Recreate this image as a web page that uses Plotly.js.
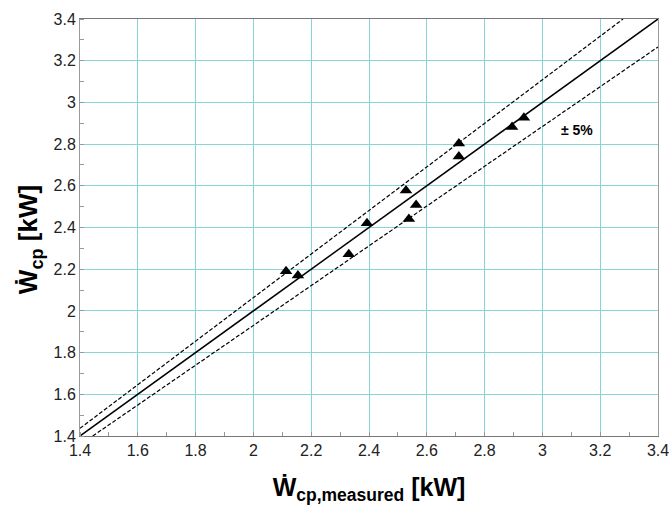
<!DOCTYPE html>
<html>
<head>
<meta charset="utf-8">
<script src="https://cdn.plot.ly/plotly-3.0.1.min.js"></script>
<style>html,body{margin:0;padding:0;background:#fff;}#chart{width:670px;height:512px;}</style>
</head>
<body>
<div id="chart"></div>
<script>
// Data
const measured = [2.113, 2.154, 2.330, 2.393, 2.528, 2.563, 2.538, 2.711, 2.711, 2.895, 2.936];
const predicted = [2.190, 2.170, 2.272, 2.420, 2.578, 2.508, 2.441, 2.803, 2.740, 2.882, 2.926];
// reference lines
const idealX = [1.4, 3.4];
const idealY = [1.4, 3.4];
const upperX = [1.4, 3.279];
const upperY = [1.437, 3.4];
const lowerX = [1.444, 3.4];
const lowerY = [1.4, 3.266];
const tickVals = [1.4, 1.6, 1.8, 2, 2.2, 2.4, 2.6, 2.8, 3, 3.2, 3.4];
const tickText = ['1.4', '1.6', '1.8', '2', '2.2', '2.4', '2.6', '2.8', '3', '3.2', '3.4'];

const traces = [
  {x: idealX, y: idealY, mode: 'lines', line: {color: '#000', width: 1.5}, hoverinfo: 'skip'},
  {x: upperX, y: upperY, mode: 'lines', line: {color: '#000', width: 1.2, dash: '4px,2px'}, hoverinfo: 'skip'},
  {x: lowerX, y: lowerY, mode: 'lines', line: {color: '#000', width: 1.2, dash: '4px,2px'}, hoverinfo: 'skip'},
  {x: measured, y: predicted, mode: 'markers', marker: {symbol: 'triangle-up', size: 11, color: '#000'}}
];

const axisCommon = {
  range: [1.4, 3.4],
  tickmode: 'array',
  tickvals: tickVals,
  ticktext: tickText,
  ticks: '',
  showgrid: true,
  gridcolor: '#86d6d8',
  gridwidth: 1,
  showline: true,
  linecolor: '#9a9a9a',
  linewidth: 1,
  mirror: true,
  zeroline: false,
  tickfont: {family: 'Liberation Sans, Arial, sans-serif', size: 16, color: '#222'},
  minor: {dtick: 0.1, tick0: 1.4, ticks: 'inside', ticklen: 4, tickcolor: '#999', showgrid: false}
};

const layout = {
  width: 670, height: 512,
  margin: {l: 80, r: 12, t: 19, b: 76},
  paper_bgcolor: '#fff', plot_bgcolor: '#fff',
  showlegend: false,
  xaxis: Object.assign({}, axisCommon, {
    linecolor: '#777',
    title: {text: '<b>Ẇ<sub>cp,measured</sub> [kW]</b>', font: {family: 'Liberation Sans, Arial, sans-serif', size: 25, color: '#000'}, standoff: 20}
  }),
  yaxis: Object.assign({}, axisCommon, {
    title: {text: ''}
  }),
  annotations: [
    {text: '<b>Ẇ<sub>cp</sub> [kW]</b>', xref: 'paper', yref: 'paper', x: -0.088, y: 0.47, textangle: -90,
     showarrow: false, xanchor: 'center', yanchor: 'middle',
     font: {family: 'Liberation Sans, Arial, sans-serif', size: 26, color: '#000'}},
    {text: '<b>± 5%</b>', xref: 'x', yref: 'y', x: 3.12, y: 2.87, showarrow: false,
     font: {family: 'Liberation Sans, Arial, sans-serif', size: 14, color: '#000'}}
  ]
};

Plotly.newPlot('chart', traces, layout, {displayModeBar: false, staticPlot: true});
</script>
</body>
</html>
